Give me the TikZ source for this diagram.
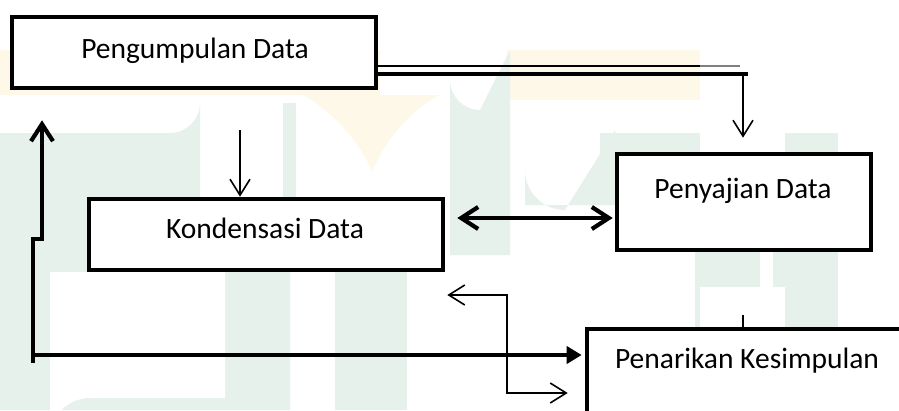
\documentclass[tikz,border=0pt]{standalone}
\usepackage{fontspec}
\setmainfont{Carlito}
\usetikzlibrary{arrows.meta,calc}
\definecolor{wmgreen}{RGB}{230,241,235}
\definecolor{wmyellow}{RGB}{253,248,232}
\tikzset{
  box/.style={draw, line width=4.6pt, fill=white, inner sep=0pt, rectangle},
  lbl/.style={anchor=base, inner sep=0pt, font=\fontsize{29.5}{34}\selectfont},
  thinline/.style={line width=1.6pt},
  thickline/.style={line width=4.2pt},
  thinbarb/.tip={Straight Barb[length=16pt,width=20pt]},
  thickbarb/.tip={Straight Barb[length=17pt,width=22pt]},
}
\begin{document}
\begin{tikzpicture}[x=1pt,y=-1pt]
\useasboundingbox (0,0) rectangle (899,410);
\clip (0,0) rectangle (899,410);
\fill[white] (0,0) rectangle (899,410);
% watermark
\fill[wmyellow] (0,50) rectangle (380,95);
\fill[wmyellow] (507,50) rectangle (700,100);
\fill[wmyellow] (303,95) .. controls (330,110) and (360,140) .. (372,172) .. controls (385,140) and (410,110) .. (440,95) -- cycle;
\fill[wmgreen] (0,133) -- (170,133) arc[start angle=90,end angle=0,radius=30] -- (200,272) -- (290,272) -- (290,410) -- (0,410) -- cycle;
\fill[white] (50,272) -- (225,272) -- (225,398) -- (90,398) arc[start angle=270,end angle=180,radius=40] -- cycle;
\fill[wmgreen] (283,103) rectangle (296,272);
\fill[wmgreen] (335,272) rectangle (407,410);
\fill[wmgreen] (450,80) arc[start angle=180,end angle=90,radius=30] -- (510,50) -- (510,255) -- (450,255) -- cycle;
\fill[wmgreen] (525,170) arc[start angle=180,end angle=90,radius=40] -- (615,130) -- (615,205) -- (525,205) -- cycle;
\fill[wmgreen] (600,133) rectangle (700,160);
\fill[wmgreen] (785,133) rectangle (838,160);
\fill[wmgreen] (695,252) rectangle (760,330);
\fill[wmgreen] (773,252) rectangle (838,330);
\fill[white] (700,287) rectangle (785,330);
% boxes
\node[box, minimum width=364pt, minimum height=71pt] (pg) at (194,52.5) {};
\node[box, minimum width=354pt, minimum height=71pt] (kd) at (266,234.5) {};
\node[box, minimum width=254pt, minimum height=96pt] (pj) at (744,202) {};
\node[box, minimum width=341pt, minimum height=109pt] (pk) at (757.5,383.5) {};
% labels
\node[lbl] (tpg) at (195,58) {Pengumpulan Data};
\node[lbl] (tkd) at (265,238) {Kondensasi Data};
\node[lbl] (tpj) at (743,198) {Penyajian Data};
\node[lbl] (tpk) at (747,368) {Penarikan Kesimpulan};
% coordinates
\coordinate (c1) at (700,66);
\coordinate (c1b) at (740,66);
\coordinate (c2) at (748,74);
\coordinate (c3) at (743,74);
\coordinate (c4) at (240,130);
\coordinate (y218) at (0,218);
\coordinate (l1) at (33,363);
\coordinate (l2) at (33,239);
\coordinate (l3) at (42,239);
\coordinate (h1) at (33,355);
\coordinate (e1) at (507,295);
\coordinate (e2) at (507,393);
\coordinate (t1) at (743,315);
% connectors
\draw[thinline] (pg.east |- c1) -- (c1);
\draw[thinline, gray] (c1) -- (c1b);
\draw[thickline] (pg.east |- c2) -- (c2);
\draw[thinline, -{thinbarb}, shorten >=14pt] (c3) -- (c3 |- pj.north);
\draw[thinline, -{thinbarb}] (c4) -- (c4 |- kd.north);
\draw[thickline, {thickbarb}-{thickbarb}, shorten <=12pt, shorten >=2pt] (kd.east |- y218) -- (pj.west |- y218);
\draw[thickline, -{thickbarb}, shorten >=30pt] (l1) -- (l2) -- (l3) -- (l3 |- pg.south);
\draw[thickline, -{Triangle[length=15pt,width=17pt]}, shorten >=3pt] (h1) -- (h1 -| pk.west);
\draw[thinline, {thinbarb}-{thinbarb}, shorten <=2pt, shorten >=17pt] (kd.east |- e1) -- (e1) -- (e2) -- (e2 -| pk.west);
\draw[thinline] (t1) -- (t1 |- pk.north);
\end{tikzpicture}
\end{document}
